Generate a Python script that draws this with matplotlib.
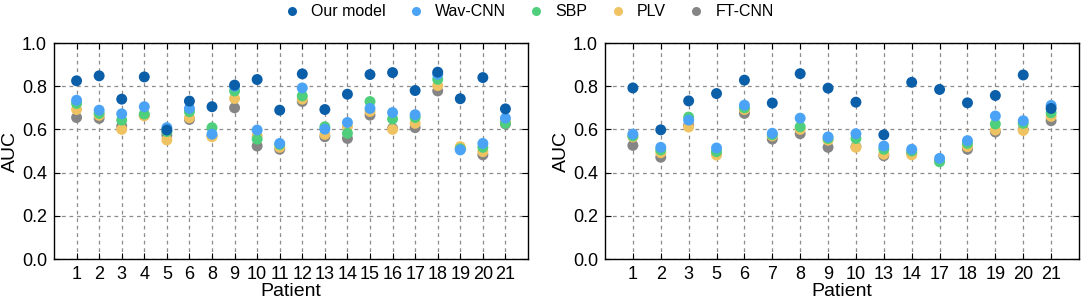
import numpy as np
import matplotlib.pyplot as plt
from matplotlib.lines import Line2D

plt.rcParams["font.family"] = ["Liberation Sans", "DejaVu Sans"]
plt.rcParams["font.size"] = 12

# panel 1: patients (7 is absent)
patients_a = ["1", "2", "3", "4", "5", "6", "8", "9", "10", "11", "12", "13", "14", "15",
              "16", "17", "18", "19", "20", "21"]
ours_a = [0.825, 0.848, 0.740, 0.843, 0.597, 0.731, 0.705, 0.805, 0.831, 0.689, 0.857,
          0.692, 0.763, 0.854, 0.863, 0.780, 0.865, 0.742, 0.840, 0.695]
wav_a = [0.735, 0.689, 0.672, 0.705, 0.608, 0.697, 0.578, 0.800, 0.597, 0.535, 0.792,
         0.601, 0.632, 0.697, 0.678, 0.668, 0.855, 0.505, 0.535, 0.652]
sbp_a = [0.720, 0.674, 0.643, 0.671, 0.590, 0.682, 0.608, 0.778, 0.555, 0.530, 0.755,
         0.612, 0.582, 0.729, 0.648, 0.655, 0.832, 0.510, 0.517, 0.628]
plv_a = [0.692, 0.665, 0.600, 0.663, 0.551, 0.654, 0.566, 0.743, 0.570, 0.517, 0.740,
         0.577, 0.612, 0.683, 0.600, 0.628, 0.803, 0.520, 0.497, 0.635]
ft_a = [0.655, 0.651, 0.615, 0.665, 0.574, 0.646, 0.570, 0.700, 0.523, 0.508, 0.729,
        0.566, 0.558, 0.666, 0.605, 0.608, 0.778, 0.510, 0.482, 0.625]

# panel 2: subset of patients
patients_b = ["1", "2", "3", "5", "6", "7", "8", "9", "10", "13", "14", "17", "18", "19", "20", "21"]
ours_b = [0.792, 0.598, 0.732, 0.766, 0.828, 0.722, 0.858, 0.791, 0.726, 0.575, 0.818,
          0.785, 0.723, 0.757, 0.852, 0.697]
wav_b = [0.578, 0.517, 0.643, 0.514, 0.712, 0.582, 0.652, 0.565, 0.580, 0.523, 0.508,
         0.466, 0.548, 0.662, 0.640, 0.711]
sbp_b = [0.570, 0.505, 0.657, 0.497, 0.700, 0.575, 0.612, 0.558, 0.558, 0.508, 0.500,
         0.450, 0.535, 0.625, 0.628, 0.677]
plv_b = [0.565, 0.492, 0.611, 0.481, 0.692, 0.570, 0.600, 0.550, 0.517, 0.485, 0.482,
         0.455, 0.520, 0.597, 0.595, 0.660]
ft_b = [0.526, 0.471, 0.620, 0.490, 0.674, 0.555, 0.580, 0.517, 0.520, 0.478, 0.490,
        0.455, 0.508, 0.588, 0.600, 0.640]

labels = ["Our model", "Wav-CNN", "SBP", "PLV", "FT-CNN"]
colors = ["#0b5ea8", "#4ba3f5", "#4fcf7b", "#efc262", "#858585"]


def draw_panel(ax, cats, series):
    x = np.arange(len(cats))
    # draw back to front: FT-CNN first, our model last
    for vals, c in reversed(list(zip(series, colors))):
        ax.scatter(x, vals, s=62, color=c, edgecolors="none", zorder=3)
    ax.set_xlim(-1, len(cats))
    ax.set_ylim(0, 1.0)
    ax.set_xticks(x)
    ax.set_xticklabels(cats)
    yt = np.arange(0, 1.01, 0.2)
    ax.set_yticks(yt)
    ax.set_yticklabels([f"{v:.1f}" for v in yt])
    ax.grid(True, linestyle=(0, (3, 3)), color="#8c8c8c", linewidth=0.9)
    ax.tick_params(direction="in", top=True, right=True, length=4, labelsize=13, pad=5)
    for sp in ax.spines.values():
        sp.set_linewidth(1.0)
    ax.set_xlabel("Patient", fontsize=14, labelpad=0)
    ax.set_ylabel("AUC", fontsize=14, labelpad=2)


fig = plt.figure(figsize=(10.84, 3.04), dpi=100)
ax1 = fig.add_axes([54 / 1084, 45 / 304, 474 / 1084, 216 / 304])
ax2 = fig.add_axes([605 / 1084, 45 / 304, 474 / 1084, 216 / 304])

draw_panel(ax1, patients_a, [ours_a, wav_a, sbp_a, plv_a, ft_a])
draw_panel(ax2, patients_b, [ours_b, wav_b, sbp_b, plv_b, ft_b])

handles = [Line2D([], [], marker="o", linestyle="none", markersize=6.5,
                  markerfacecolor=c, markeredgecolor="none") for c in colors]
fig.legend(handles, labels, loc="center", bbox_to_anchor=(528 / 1084, 1 - 12 / 304),
           ncol=5, frameon=False, fontsize=11.5, handlelength=1.2, handletextpad=0.6,
           columnspacing=1.3)

fig.savefig("out.png", dpi=100)
